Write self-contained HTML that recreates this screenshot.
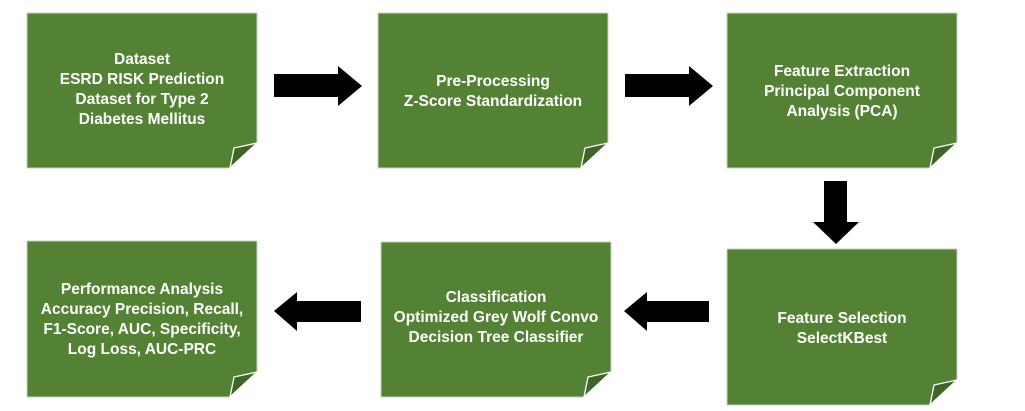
<!DOCTYPE html>
<html><head><meta charset="utf-8"><style>
body{margin:0;background:#fff}
text{font-family:"Liberation Sans",Arial,sans-serif;font-weight:bold;font-size:15.5px;fill:#fff;text-anchor:middle}
</style></head><body>
<svg width="1025" height="406" xmlns="http://www.w3.org/2000/svg">
<defs>
<g id="fold"><polygon points="-27,25 0,0 -23,5" fill="#3f6628" stroke="#fff" stroke-width="1.3"/></g>
</defs>
<g fill="#548235" stroke="#c9d3c0" stroke-width="1">
<polygon points="27,13 257,13 257,143 230,168 27,168"/>
<polygon points="378,13 608,13 608,143 581,168 378,168"/>
<polygon points="727,13 957,13 957,143 930,168 727,168"/>
<polygon points="727,249 957,249 957,380 930,405 727,405"/>
<polygon points="381,242 611,242 611,372 584,397 381,397"/>
<polygon points="27,241 257,241 257,372 230,397 27,397"/>
</g>
<use href="#fold" x="257" y="143"/>
<use href="#fold" x="608" y="143"/>
<use href="#fold" x="957" y="143"/>
<use href="#fold" x="957" y="380"/>
<use href="#fold" x="611" y="372"/>
<use href="#fold" x="257" y="372"/>
<g fill="#000">
<polygon points="274,74 338,74 338,66 362,86 338,106 338,97 274,97"/>
<polygon points="625,74 689,74 689,66 713,86 689,106 689,97 625,97"/>
<polygon points="824,181 847,181 847,222 859,222 836,244 813,222 824,222"/>
<polygon points="274,311 297,292 297,301 361,301 361,322 297,322 297,331"/>
<polygon points="624,311 647,292 647,301 709,301 709,322 647,322 647,331"/>
</g>
<text x="142" y="64">Dataset</text>
<text x="142" y="84">ESRD RISK Prediction</text>
<text x="142" y="104">Dataset for Type 2</text>
<text x="142" y="124">Diabetes Mellitus</text>
<text x="493" y="86">Pre-Processing</text>
<text x="493" y="106">Z-Score Standardization</text>
<text x="842" y="76">Feature Extraction</text>
<text x="842" y="96">Principal Component</text>
<text x="842" y="116">Analysis (PCA)</text>
<text x="842" y="323">Feature Selection</text>
<text x="842" y="343">SelectKBest</text>
<text x="496" y="302">Classification</text>
<text x="496" y="322">Optimized Grey Wolf Convo</text>
<text x="496" y="342">Decision Tree Classifier</text>
<text x="142" y="294">Performance Analysis</text>
<text x="142" y="314">Accuracy Precision, Recall,</text>
<text x="142" y="334">F1-Score, AUC, Specificity,</text>
<text x="142" y="354">Log Loss, AUC-PRC</text>
</svg>
</body></html>
